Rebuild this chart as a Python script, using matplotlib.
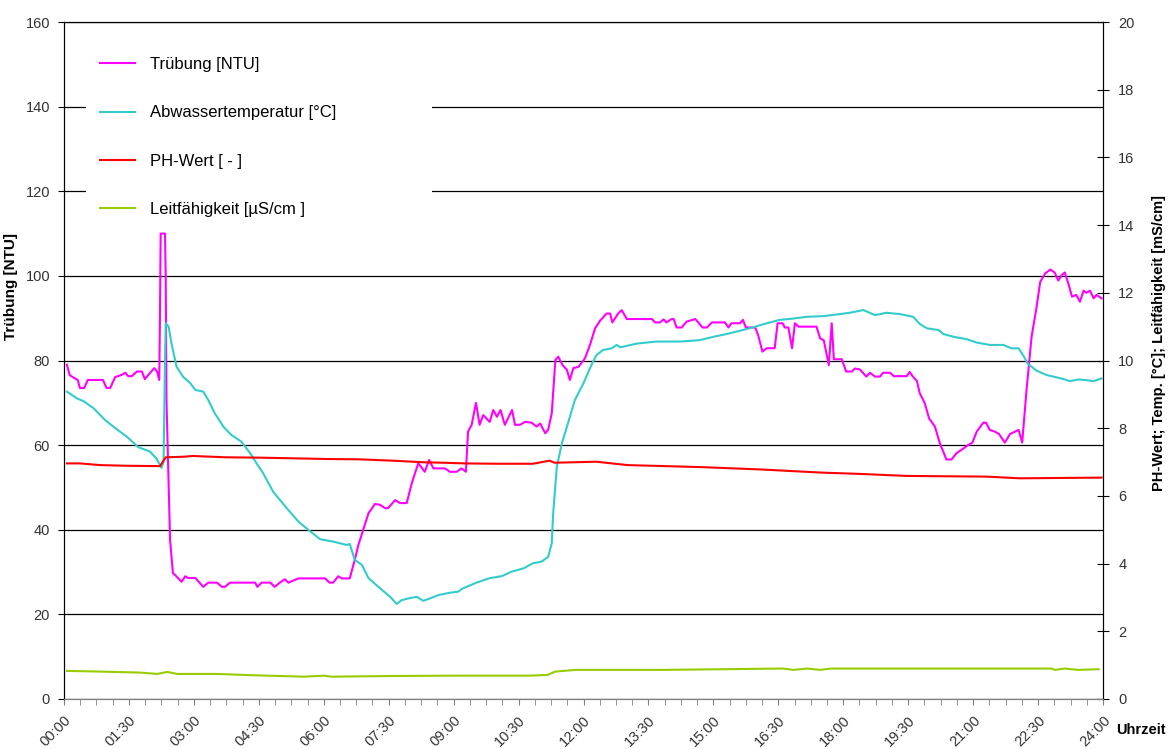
import numpy as np
import matplotlib
matplotlib.use("Agg")
import matplotlib.pyplot as plt
from matplotlib.patches import Rectangle
from matplotlib.ticker import MultipleLocator, FuncFormatter

plt.rcParams["font.family"] = ["Liberation Sans", "DejaVu Sans"]

# ── data (time in minutes after midnight) ────────────────────────────────────
trueb_t = [4, 8, 19, 22, 28, 33, 54, 59, 64, 71, 80, 85, 89, 94, 101, 108, 112, 119, 125, 129,
           132, 133, 134, 140, 141, 142, 147, 151, 154, 163, 168, 172, 182, 193, 200, 212, 219,
           223, 230, 265, 268, 274, 286, 292, 299, 306, 311, 325, 362, 368, 373, 380, 385, 396,
           403, 408, 416, 422, 431, 438, 445, 449, 459, 466, 475, 482, 491, 500, 506, 512, 528,
           535, 544, 551, 557, 560, 565, 571, 576, 581, 590, 595, 600, 605, 611, 621, 625, 632,
           639, 648, 655, 660, 667, 671, 676, 681, 685, 691, 697, 701, 706, 713, 722, 729, 736,
           743, 752, 757, 760, 768, 773, 780, 815, 819, 826, 831, 835, 842, 845, 849, 856, 863,
           875, 885, 891, 898, 916, 921, 925, 937, 941, 945, 958, 962, 968, 974, 985, 989, 996,
           999, 1004, 1009, 1013, 1018, 1043, 1048, 1053, 1060, 1064, 1067, 1078, 1084, 1092,
           1096, 1103, 1112, 1117, 1124, 1131, 1135, 1145, 1150, 1168, 1172, 1176, 1182, 1186,
           1193, 1199, 1207, 1214, 1223, 1230, 1237, 1244, 1253, 1259, 1265, 1274, 1278, 1283,
           1290, 1296, 1304, 1311, 1323, 1328, 1334, 1341, 1348, 1353, 1360, 1367, 1373, 1378,
           1383, 1387, 1392, 1397, 1403, 1408, 1413, 1417, 1422, 1427, 1431, 1438]
trueb = [79.0, 76.5, 75.4, 73.5, 73.5, 75.4, 75.4, 73.5, 73.5, 76.1, 76.6, 77.1, 76.3, 76.3, 77.4,
         77.4, 75.6, 77.0, 78.2, 77.4, 75.4, 90.4, 110, 110, 99, 70.7, 37.6, 29.7, 29.3, 27.7,
         29.0, 28.6, 28.6, 26.5, 27.5, 27.5, 26.5, 26.5, 27.5, 27.5, 26.5, 27.5, 27.5, 26.5,
         27.5, 28.3, 27.5, 28.5, 28.5, 27.5, 27.5, 29.0, 28.5, 28.5, 32.9, 36.4, 40.7, 43.9,
         46.1, 45.9, 45.1, 45.1, 47.0, 46.3, 46.3, 51.0, 55.7, 53.7, 56.5, 54.5, 54.5, 53.7,
         53.7, 54.5, 53.7, 63.2, 64.8, 70.0, 64.8, 67.1, 65.5, 68.3, 66.7, 68.3, 64.8, 68.3,
         64.8, 64.8, 65.5, 65.3, 64.4, 65.1, 62.8, 63.6, 67.5, 80.1, 80.9, 78.9, 77.8, 75.4,
         78.2, 78.5, 80.5, 83.7, 87.6, 89.4, 91.1, 91.1, 89.0, 91.1, 91.9, 89.8, 89.8, 89.0,
         89.0, 89.7, 89.0, 89.8, 89.8, 87.8, 87.8, 89.2, 89.8, 87.8, 87.8, 89.0, 89.0, 87.8,
         88.8, 88.8, 89.6, 87.8, 87.8, 86.0, 82.1, 82.9, 82.9, 88.8, 88.8, 87.8, 87.8, 82.9,
         88.8, 88.0, 88.0, 85.2, 84.8, 78.9, 88.8, 80.3, 80.3, 77.4, 77.4, 78.1, 77.9, 76.2,
         77.1, 76.2, 76.2, 77.1, 77.1, 76.3, 76.3, 77.3, 76.3, 75.2, 72.3, 69.9, 66.3, 64.4,
         60.4, 56.6, 56.6, 58.1, 58.9, 60.0, 60.6, 63.2, 65.3, 65.3, 63.6, 63.2, 62.6, 60.6,
         62.6, 63.6, 60.6, 73.0, 85.6, 92.7, 98.6, 100.6, 101.5, 100.8, 98.9, 100.2, 100.8,
         98.2, 95.1, 95.5, 93.9, 96.5, 96.0, 96.5, 94.7, 95.5, 94.7]

temp_t = [4, 18, 27, 41, 57, 73, 87, 103, 119, 128, 135, 138, 140, 141, 145, 149, 156, 165, 175,
          182, 193, 200, 209, 221, 232, 246, 258, 267, 276, 290, 309, 325, 339, 355, 373, 392,
          396, 403, 413, 422, 438, 452, 461, 468, 477, 489, 498, 507, 519, 535, 546, 553, 572,
          590, 607, 620, 637, 650, 662, 671, 676, 678, 683, 690, 697, 708, 720, 731, 738, 747,
          759, 766, 771, 794, 821, 854, 881, 900, 918, 937, 955, 974, 992, 1011, 1029, 1052,
          1075, 1089, 1108, 1124, 1140, 1159, 1177, 1186, 1196, 1212, 1219, 1233, 1251, 1265,
          1283, 1302, 1313, 1323, 1330, 1336, 1348, 1362, 1376, 1387, 1394, 1406, 1417, 1427,
          1438]
temp = [9.08, 8.88, 8.80, 8.59, 8.24, 7.97, 7.75, 7.44, 7.31, 7.11, 6.83, 7.0, 10.0, 11.1, 11.0,
        10.5, 9.82, 9.52, 9.33, 9.13, 9.08, 8.83, 8.44, 8.04, 7.80, 7.60, 7.26, 6.96, 6.67,
        6.12, 5.63, 5.24, 4.99, 4.72, 4.65, 4.55, 4.58, 4.11, 3.96, 3.57, 3.27, 3.02, 2.81,
        2.92, 2.97, 3.02, 2.90, 2.97, 3.07, 3.14, 3.17, 3.27, 3.44, 3.57, 3.63, 3.76, 3.86,
        4.01, 4.06, 4.20, 4.60, 5.49, 6.86, 7.55, 8.04, 8.83, 9.33, 9.87, 10.16, 10.31, 10.36,
        10.46, 10.39, 10.50, 10.56, 10.56, 10.60, 10.70, 10.78, 10.88, 10.98, 11.10, 11.20,
        11.24, 11.29, 11.31, 11.37, 11.41, 11.49, 11.34, 11.41, 11.37, 11.29, 11.08, 10.95,
        10.90, 10.78, 10.70, 10.63, 10.53, 10.46, 10.46, 10.36, 10.36, 10.13, 9.90, 9.70, 9.57,
        9.50, 9.44, 9.39, 9.44, 9.42, 9.39, 9.47]

ph_t = [4, 22, 50, 87, 133, 141, 169, 178, 225, 271, 318, 364, 410, 456, 502, 526, 555, 600,
        650, 673, 680, 738, 781, 884, 967, 1048, 1103, 1168, 1278, 1325, 1438]
ph = [6.96, 6.96, 6.91, 6.89, 6.88, 7.14, 7.16, 7.18, 7.14, 7.13, 7.11, 7.09, 7.08, 7.04, 6.99,
      6.98, 6.96, 6.95, 6.95, 7.04, 6.98, 7.01, 6.91, 6.85, 6.78, 6.69, 6.65, 6.59, 6.57, 6.52,
      6.54]

leit_t = [4, 50, 106, 129, 143, 157, 213, 264, 333, 361, 370, 459, 552, 645, 670, 681, 709, 830,
          997, 1011, 1030, 1048, 1063, 1369, 1373, 1387, 1405, 1434]
leit = [0.83, 0.81, 0.78, 0.74, 0.80, 0.74, 0.74, 0.70, 0.66, 0.69, 0.66, 0.68, 0.69, 0.69,
        0.71, 0.81, 0.86, 0.86, 0.90, 0.86, 0.90, 0.86, 0.90, 0.90, 0.86, 0.90, 0.86, 0.88]

labels = ["Trübung [NTU]", "Abwassertemperatur [°C]", "PH-Wert [ - ]", "Leitfähigkeit [µS/cm ]"]
colors = ["#FF00FF", "#33CCCC", "#FF0000", "#99CC00"]

# ── figure ────────────────────────────────────────────────────────────────────
W, H = 1172, 749
fig = plt.figure(figsize=(W / 100, H / 100), dpi=100)
x0, x1, y0, y1 = 64, 1103, 22, 699
ax = fig.add_axes([x0 / W, 1 - y1 / H, (x1 - x0) / W, (y1 - y0) / H])
ax2 = ax.twinx()

ax.set_xlim(0, 1440)
ax.set_ylim(0, 160)
ax2.set_ylim(0, 20)

ax.set_axisbelow(True)
ax.yaxis.set_major_locator(MultipleLocator(20))
ax.grid(axis="y", color="black", linewidth=0.9)
ax2.yaxis.set_major_locator(MultipleLocator(2))

# white legend area hides grid lines
ax.add_patch(Rectangle((0.021, 0.685), 0.333, 0.305, transform=ax.transAxes,
                       facecolor="white", edgecolor="none", zorder=1))

l1, = ax.plot(trueb_t, trueb, color=colors[0], lw=1.5, zorder=3)
l2, = ax2.plot(temp_t, temp, color=colors[1], lw=1.5)
l3, = ax2.plot(ph_t, ph, color=colors[2], lw=1.5)
l4, = ax2.plot(leit_t, leit, color=colors[3], lw=1.5)

# x axis: labels every 1:30, ticks every 22.5 min
ax.xaxis.set_major_locator(MultipleLocator(90))
ax.xaxis.set_minor_locator(MultipleLocator(22.5))
ax.xaxis.set_major_formatter(FuncFormatter(lambda v, p: f"{int(v // 60):02d}:{int(v % 60):02d}"))
for lab in ax.get_xticklabels():
    lab.set_rotation(45)
    lab.set_ha("right")
    lab.set_va("top")
    lab.set_rotation_mode("anchor")

tick_col = "#333333"
ax.tick_params(axis="x", which="both", direction="out", length=4, color="#808080",
               labelsize=10.5, labelcolor=tick_col, pad=6)
ax.tick_params(axis="y", direction="out", length=4, labelsize=10.5, labelcolor=tick_col, pad=6)
ax2.tick_params(axis="y", direction="inout", length=8, labelsize=10.5, labelcolor=tick_col, pad=7)

for a in (ax, ax2):
    a.spines["left"].set_color("black")
    a.spines["right"].set_color("black")
    a.spines["top"].set_color("black")
    a.spines["bottom"].set_color("#808080")

ax.set_ylabel("Trübung [NTU]", fontsize=11, fontweight="bold")
ax.yaxis.set_label_coords(-0.044, 0.61)
ax2.set_ylabel("PH-Wert; Temp. [°C]; Leitfähigkeit [mS/cm]", fontsize=10.5, fontweight="bold")
ax2.yaxis.set_label_coords(1.047, 0.526)

fig.text(1141 / W, 1 - 730 / H, "Uhrzeit", fontsize=10.5, fontweight="bold",
         ha="center", va="center")

leg = ax2.legend([l1, l2, l3, l4], labels, loc="upper left",
                 bbox_to_anchor=((100 - x0) / (x1 - x0), (y1 - 57) / (y1 - y0)),
                 frameon=False, fontsize=12, borderpad=0, borderaxespad=0,
                 handlelength=2.1, handletextpad=0.9, labelspacing=2.0)

fig.savefig("out.png", dpi=100)
